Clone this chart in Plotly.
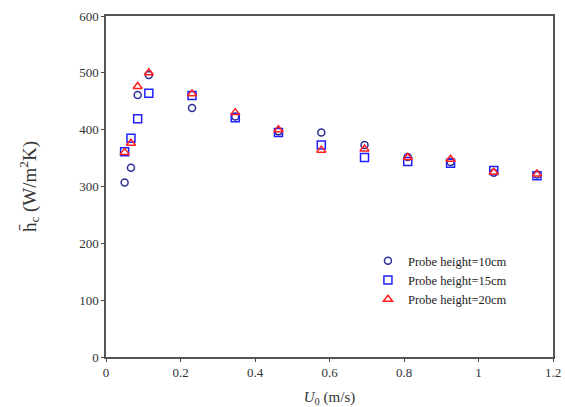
import plotly.graph_objects as go

u0 = [0.05, 0.067, 0.085, 0.115, 0.231, 0.347, 0.463, 0.578, 0.694, 0.81, 0.925, 1.041, 1.157]
h10 = [307, 333, 461, 496, 438, 423, 397, 395, 373, 352, 343, 324, 321]
h15 = [361, 385, 419, 464, 460, 421, 395, 373, 351, 344, 341, 328, 319]
h20 = [360, 376, 476, 500, 463, 430, 400, 364, 366, 351, 348, 325, 322]

names = ["Probe height=10cm", "Probe height=15cm", "Probe height=20cm"]
colors = ["#2E2E99", "#1F1FFF", "#FF2020"]
symbols = ["circle-open", "square-open", "triangle-up-open"]
sizes = [7, 8, 8]

fig = go.Figure()
for ys, n, c, s, sz in zip([h10, h15, h20], names, colors, symbols, sizes):
    fig.add_trace(go.Scatter(x=u0, y=ys, mode="markers", name=n,
                             marker=dict(symbol=s, color=c, size=sz, line=dict(width=1.5, color=c))))

axis_font = dict(family="Liberation Serif", size=13, color="#333")
fig.update_layout(
    width=565, height=407,
    margin=dict(l=106, r=12, t=16, b=50, autoexpand=False),
    paper_bgcolor="white", plot_bgcolor="white",
    font=dict(family="Liberation Serif", color="#222"),
    legend=dict(x=0.586, y=0.325, xanchor="left", yanchor="top",
                font=dict(family="Liberation Serif", size=12.5, color="#222"),
                bgcolor="rgba(0,0,0,0)", itemwidth=30, tracegroupgap=0),
    showlegend=True,
)
fig.update_xaxes(range=[0, 1.2], tickvals=[0, 0.2, 0.4, 0.6, 0.8, 1, 1.2],
                 ticktext=["0", "0.2", "0.4", "0.6", "0.8", "1", "1.2"],
                 automargin=False,
                 showgrid=False, zeroline=False, showline=True, linecolor="#555", linewidth=1.5,
                 mirror=True, ticks="outside", ticklen=3, tickcolor="#444", tickfont=axis_font,
                 title=dict(text="<i>U</i><sub>0</sub> (m/s)", font=dict(family="Liberation Serif", size=15, color="#333"), standoff=15))
fig.update_yaxes(range=[0, 600], dtick=100, automargin=False,
                 showgrid=False, zeroline=False, showline=True, linecolor="#555", linewidth=1.5,
                 mirror=True, ticks="outside", ticklen=3, tickcolor="#444", tickfont=axis_font,
                 title=dict(text="h\u0304<sub>c</sub> (W/m<sup>2</sup>K)", font=dict(family="Liberation Serif", size=19, color="#333"), standoff=38))

fig.write_html("out.html", config={"displayModeBar": False},
               post_script="document.body.style.margin='0';document.body.style.overflow='hidden';")
